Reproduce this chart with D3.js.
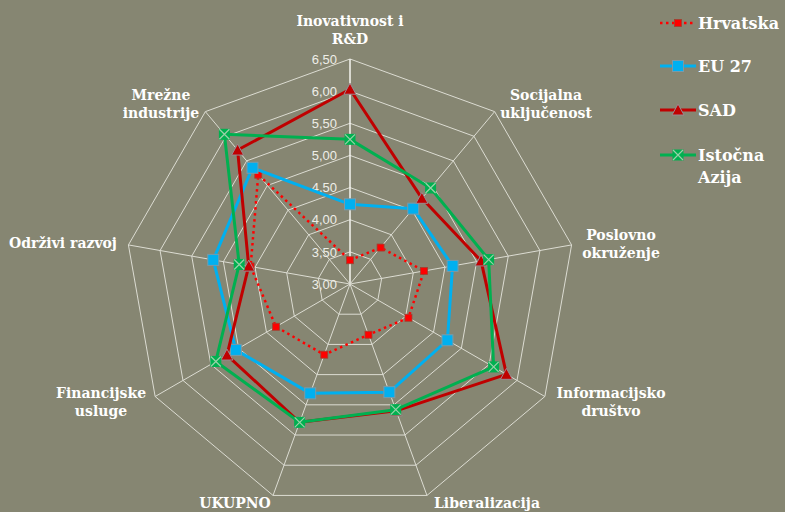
<!DOCTYPE html>
<html>
<head>
<meta charset="utf-8">
<script src="https://cdn.jsdelivr.net/npm/d3@7"></script>
<style>
  body { margin: 0; background: #868672; }
  svg { display: block; }
</style>
</head>
<body>
<div id="vis"></div>
<script>
// axes of the radar, clockwise from the top
const axes = ['Inovativnost i R&D', 'Socijalna uključenost', 'Poslovno okruženje',
  'Informacijsko društvo', 'Liberalizacija', 'UKUPNO', 'Financijske usluge',
  'Održivi razvoj', 'Mrežne industrije'];
const axisLines = [['Inovativnost i', 'R&D'], ['Socijalna', 'uključenost'], ['Poslovno', 'okruženje'],
  ['Informacijsko', 'društvo'], ['Liberalizacija'], ['UKUPNO'], ['Financijske', 'usluge'],
  ['Održivi razvoj'], ['Mrežne', 'industrije']];

const hrvatska = [3.37, 3.74, 4.17, 4.05, 3.84, 4.17, 4.33, 4.57, 5.22];
const eu27     = [4.24, 4.53, 4.62, 4.75, 4.79, 4.81, 5.05, 5.16, 5.36];
const sad      = [6.03, 4.74, 5.07, 5.81, 5.10, 5.29, 5.21, 4.60, 5.72];
const azija    = [5.25, 4.95, 5.19, 5.58, 5.08, 5.29, 5.41, 4.75, 6.04];

const ticks = [3.0, 3.5, 4.0, 4.5, 5.0, 5.5, 6.0, 6.5];

const width = 785, height = 512;
const cx = 350, cy = 284, R = 225;

// label anchor points (centre x, first baseline y) - layout only
const labelPos = [[350, 26], [546, 100], [621, 240], [611, 398], [487, 508],
  [235, 508], [101, 398], [63, 248], [161, 100]];

const series = [
  { name: 'Hrvatska', values: hrvatska, color: '#ff0000', dash: '2.5,3.5', w: 2.5, marker: 'smallsquare' },
  { name: 'EU 27', values: eu27, color: '#00b0f0', dash: null, w: 3, marker: 'square' },
  { name: 'SAD', values: sad, color: '#c00000', dash: null, w: 3, marker: 'triangle' },
  { name: 'Istočna Azija', values: azija, color: '#00b050', dash: null, w: 3, marker: 'x' }
];

const svg = d3.select('#vis').append('svg')
  .attr('width', width).attr('height', height);

const g = svg.append('g').attr('transform', `translate(${cx},${cy})`);

const r = d3.scaleLinear().domain([3, 6.5]).range([0, R]);
const angle = d3.scaleLinear().domain([0, axes.length]).range([0, 2 * Math.PI]);
const px = (i, v) => r(v) * Math.sin(angle(i));
const py = (i, v) => -r(v) * Math.cos(angle(i));

// grid rings
const ring = d3.lineRadial().angle((d, i) => angle(i)).radius(d => r(d)).curve(d3.curveLinearClosed);
g.selectAll('.ring').data(ticks.slice(1)).enter().append('path')
  .attr('d', t => ring(axes.map(() => t)))
  .attr('fill', 'none').attr('stroke', '#dcdcd2').attr('stroke-width', 1);

// spokes
g.selectAll('.spoke').data(axes).enter().append('line')
  .attr('x1', 0).attr('y1', 0)
  .attr('x2', (d, i) => px(i, 6.5)).attr('y2', (d, i) => py(i, 6.5))
  .attr('stroke', (d, i) => i === 0 ? '#f4f4f0' : '#dcdcd2')
  .attr('stroke-width', (d, i) => i === 0 ? 1.5 : 1);

// tick labels
g.selectAll('.tick').data(ticks).enter().append('text')
  .attr('x', -13).attr('y', t => -r(t)).attr('dy', '0.36em')
  .attr('text-anchor', 'end')
  .style('font-family', 'Liberation Sans, Arial, sans-serif')
  .style('font-size', '13px').style('fill', '#eeeee8')
  .text(t => d3.format('.2f')(t).replace('.', ','));

// axis labels
const labels = svg.selectAll('.lab').data(axisLines).enter().append('text')
  .attr('x', (d, i) => labelPos[i][0]).attr('y', (d, i) => labelPos[i][1])
  .attr('text-anchor', 'middle')
  .style('font-family', 'DejaVu Serif, serif').style('font-weight', 'bold')
  .style('font-size', '14px').style('fill', '#ffffff');
labels.selectAll('tspan').data((d, i) => d.map(s => ({ s, i }))).enter().append('tspan')
  .attr('x', d => labelPos[d.i][0]).attr('dy', (d, j) => j === 0 ? 0 : 18)
  .text(d => d.s);

function drawMarker(sel, type, color) {
  if (type === 'smallsquare') {
    sel.append('rect').attr('x', -3.5).attr('y', -3.5).attr('width', 7).attr('height', 7)
      .attr('fill', color).attr('stroke', '#a04030').attr('stroke-width', 0.8);
  } else if (type === 'square') {
    sel.append('rect').attr('x', -5.5).attr('y', -5.5).attr('width', 11).attr('height', 11)
      .attr('fill', color).attr('stroke', '#7a9aa8').attr('stroke-width', 1);
  } else if (type === 'triangle') {
    sel.append('path').attr('d', 'M0,-6 L6,5 L-6,5 Z')
      .attr('fill', color).attr('stroke', '#9a8a90').attr('stroke-width', 1);
  } else {
    sel.append('rect').attr('x', -5.5).attr('y', -5.5).attr('width', 11).attr('height', 11)
      .attr('fill', color);
    sel.append('path').attr('d', 'M-5,-5 L5,5 M-5,5 L5,-5')
      .attr('stroke', '#9ad0a8').attr('stroke-width', 1.2);
  }
}

const line = d3.lineRadial().angle((d, i) => angle(i)).radius(d => r(d)).curve(d3.curveLinearClosed);

series.forEach(s => {
  g.append('path').attr('d', line(s.values))
    .attr('fill', 'none').attr('stroke', s.color).attr('stroke-width', s.w)
    .attr('stroke-dasharray', s.dash).attr('stroke-linejoin', 'round');
  s.values.forEach((v, i) => {
    const m = g.append('g').attr('transform', `translate(${px(i, v)},${py(i, v)})`);
    drawMarker(m, s.marker, s.color);
  });
});

// legend
const legendY = [23, 66, 110, 155];
const legend = svg.append('g').attr('transform', 'translate(660,0)');
series.forEach((s, k) => {
  const row = legend.append('g').attr('transform', `translate(0,${legendY[k]})`);
  row.append('line').attr('x1', 0).attr('x2', 36).attr('y1', 0).attr('y2', 0)
    .attr('stroke', s.color).attr('stroke-width', s.w).attr('stroke-dasharray', s.dash);
  drawMarker(row.append('g').attr('transform', 'translate(18,0)'), s.marker, s.color);
  const words = s.name === 'Istočna Azija' ? ['Istočna', 'Azija'] : [s.name];
  const t = row.append('text').attr('x', 38).attr('y', 5.5)
    .style('font-family', 'DejaVu Serif, serif').style('font-weight', 'bold')
    .style('font-size', '16px').style('fill', '#ffffff');
  words.forEach((w, j) => t.append('tspan').attr('x', 38).attr('dy', j === 0 ? 0 : 22).text(w));
});
</script>
</body>
</html>
